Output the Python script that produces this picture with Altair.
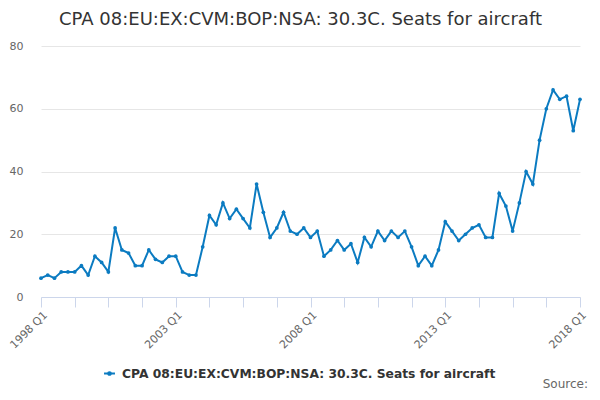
import altair as alt
import pandas as pd

years = list(range(1998, 2019))
quarters = [f"{y} Q{q}" for y in years for q in range(1, 5)][:81]
values = [
    6, 7, 6, 8, 8, 8, 10, 7,
    13, 11, 8, 22, 15, 14, 10, 10,
    15, 12, 11, 13, 13, 8, 7, 7,
    16, 26, 23, 30, 25, 28, 25, 22,
    36, 27, 19, 22, 27, 21, 20, 22,
    19, 21, 13, 15, 18, 15, 17, 11,
    19, 16, 21, 18, 21, 19, 21, 16,
    10, 13, 10, 15, 24, 21, 18, 20,
    22, 23, 19, 19, 33, 29, 21, 30,
    40, 36, 50, 60, 66, 63, 64, 53,
    63,
]
series_name = "CPA 08:EU:EX:CVM:BOP:NSA: 30.3C. Seats for aircraft"
tick_quarters = quarters[::5]
label_quarters = ["1998 Q1", "2003 Q1", "2008 Q1", "2013 Q1", "2018 Q1"]
y_ticks = [0, 20, 40, 60, 80]

df = pd.DataFrame({"quarter": quarters, "value": values, "series": series_name})

color = "#0b7bc1"
label_list = "[" + ",".join(f"'{q}'" for q in label_quarters) + "]"

base = alt.Chart(df)

line = base.mark_line(
    strokeWidth=2,
    point=alt.OverlayMarkDef(size=14, filled=True, color=color),
).encode(
    x=alt.X(
        "quarter:O",
        sort=quarters,
        scale=alt.Scale(type="point", padding=0),
        axis=alt.Axis(
            title=None,
            values=tick_quarters,
            labelExpr=f"indexof({label_list}, datum.value) >= 0 ? datum.value : ''",
            labelAngle=-45,
            labelAlign="right",
            labelBaseline="top",
            labelFontSize=11,
            labelColor="#666666",
            labelFont="DejaVu Sans",
            labelPadding=2,
            domainColor="#ccd6eb",
            tickColor="#ccd6eb",
            tickSize=10,
            grid=False,
        ),
    ),
    y=alt.Y(
        "value:Q",
        scale=alt.Scale(domain=[0, 80]),
        axis=alt.Axis(
            title=None,
            values=y_ticks,
            labelFontSize=11,
            labelColor="#666666",
            labelFont="DejaVu Sans",
            labelPadding=18,
            ticks=False,
            domain=False,
            gridColor="#e6e6e6",
        ),
    ),
    color=alt.Color(
        "series:N",
        scale=alt.Scale(range=[color]),
        legend=alt.Legend(
            title=None,
            orient="none",
            legendX=62,
            legendY=321,
            labelFont="DejaVu Sans",
            labelFontSize=12.3,
            labelFontWeight="bold",
            labelColor="#333333",
            labelLimit=0,
            labelOffset=6,
            symbolType="M-1,0H1M-0.25,0a0.25,0.25 0 1,0 0.5,0a0.25,0.25 0 1,0 -0.5,0",
            symbolStrokeWidth=2,
            symbolSize=120,
            symbolFillColor=color,
            symbolStrokeColor=color,
        ),
    ),
)

source = alt.Chart(pd.DataFrame({"t": ["Source:"]})).mark_text(
    align="right", baseline="alphabetic", font="DejaVu Sans", fontSize=12, color="#666666"
).encode(x=alt.value(547), y=alt.value(342), text="t:N")

chart = alt.layer(line, source).properties(
    width=539,
    height=251,
    autosize=alt.AutoSizeParams(type="none"),
    padding={"left": 33, "top": 38, "right": 12, "bottom": 95},
    title=alt.TitleParams(
        text=series_name,
        font="DejaVu Sans",
        fontSize=18,
        fontWeight="normal",
        color="#333333",
        anchor="middle",
        dx=-10,
        offset=11,
    ),
).configure_view(stroke=None)

chart.save("out.html", embed_options={"renderer": "svg", "actions": False})
